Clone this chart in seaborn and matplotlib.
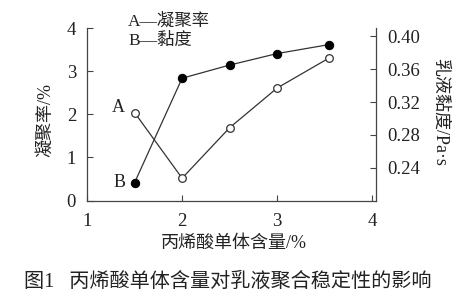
import matplotlib
matplotlib.use("Agg")
import matplotlib.pyplot as plt
import seaborn as sns
import pandas as pd

# Data
monomer = [1.5, 2.0, 2.5, 3.0, 3.55]
aggregation_rate = [2.04, 0.52, 1.69, 2.61, 3.31]   # A, left axis (%)
viscosity = [0.222, 0.349, 0.365, 0.379, 0.390]     # B, right axis (Pa·s)
x_ticks = [1, 2, 3, 4]
left_ticks = [0, 1, 2, 3, 4]
right_ticks = [0.24, 0.28, 0.32, 0.36, 0.40]
right_tick_labels = ["0.24", "0.28", "0.32", "0.36", "0.40"]

sns.set_theme(style="ticks")
fam = ['Liberation Serif', 'Noto Sans CJK SC']
plt.rcParams['font.family'] = fam

df = pd.DataFrame({"x": monomer, "A": aggregation_rate, "B": viscosity})

fig = plt.figure(figsize=(4.71, 2.99), dpi=100)
ax = fig.add_axes([0.185, 0.329, 0.613, 0.577])
ax2 = ax.twinx()

sns.lineplot(data=df, x="x", y="A", ax=ax, color="#333333", lw=0.9,
             marker="o", markersize=5.5, markerfacecolor="white",
             markeredgecolor="#333333", markeredgewidth=0.9)
sns.lineplot(data=df, x="x", y="B", ax=ax2, color="#333333", lw=0.9,
             marker="o", markersize=6, markerfacecolor="black",
             markeredgecolor="black")

ax.set_xlim(1, 4.04)
ax.set_ylim(0, 4)
ax2.set_ylim(0.20, 0.41)
ax.set_xticks(x_ticks)
ax.set_yticks(left_ticks)
ax2.set_yticks(right_ticks)
ax2.set_yticklabels(right_tick_labels)

for a in (ax, ax2):
    a.spines['top'].set_visible(False)
    for s in a.spines.values():
        s.set_color("#444444")
        s.set_linewidth(0.9)
    a.tick_params(direction="in", length=4, width=0.8, color="#444444",
                  labelsize=13.5, labelcolor="#222222", pad=8)
ax.tick_params(axis="x", pad=9)
ax2.spines['left'].set_visible(False)
ax2.spines['bottom'].set_visible(False)
ax.spines['right'].set_visible(False)

ax.set_xlabel("")
ax.set_ylabel("")
ax2.set_ylabel("")

fig.text(0.097, 0.6, "凝聚率/%", rotation=90, ha="center", va="center",
         fontsize=13, family=fam, color="#222222")
fig.text(0.933, 0.625, "乳液黏度/Pa·s", rotation=270, ha="center", va="center",
         fontsize=13, family=fam, color="#222222")
fig.text(0.497, 0.187, "丙烯酸单体含量/%", ha="center", va="center",
         fontsize=13, family=fam, color="#222222")
fig.text(0.483, 0.057, "图1   丙烯酸单体含量对乳液聚合稳定性的影响", ha="center",
         va="center", fontsize=14.5, family=fam, color="#222222")

ax.text(1.40, 2.15, "A", ha="right", va="center", fontsize=13, color="#222222")
ax.text(1.40, 0.41, "B", ha="right", va="center", fontsize=13, color="#222222")
ax.text(1.43, 4.16, "A—凝聚率", ha="left", va="center", fontsize=12.5,
        color="#222222", family=fam)
ax.text(1.43, 3.71, "B—黏度", ha="left", va="center", fontsize=12.5,
        color="#222222", family=fam)

fig.savefig("out.png", dpi=100)
